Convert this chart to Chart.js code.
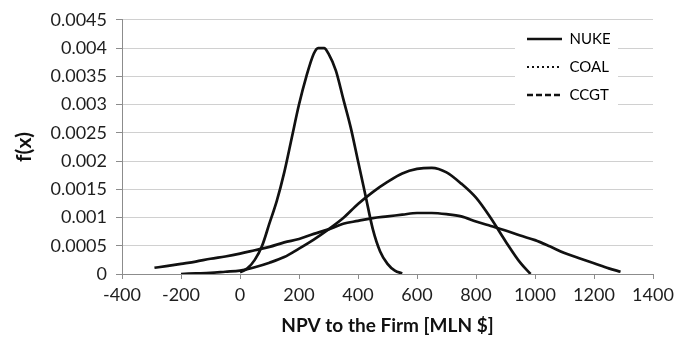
<!DOCTYPE html>
<html><head><meta charset="utf-8">
<script src="https://cdn.jsdelivr.net/npm/chart.js@4/dist/chart.umd.min.js"></script>
<style>html,body{margin:0;padding:0;background:#fff}#wrap{width:692px;height:340px}</style>
</head><body><div id="wrap"><canvas id="c" width="692" height="340"></canvas></div>
<script>
const seriesNames = ['NUKE', 'COAL', 'CCGT'];

const nukeX = [0, 25, 50, 75, 100, 125, 150, 175, 200, 225, 250, 265, 285, 300, 325, 350, 375, 400, 425, 450, 475, 500, 525, 550];
const nukeY = [0.00003, 0.0001, 0.00025, 0.0005, 0.0009, 0.0013, 0.0018, 0.0024, 0.003, 0.0035, 0.0039, 0.004, 0.004, 0.0039, 0.0036, 0.0031, 0.0026, 0.002, 0.0014, 0.0008, 0.0004, 0.00018, 0.00006, 0.00001];

const coalX = [-200, -150, -100, -50, 0, 50, 100, 150, 200, 250, 300, 350, 400, 450, 500, 550, 600, 650, 700, 750, 800, 850, 900, 950, 985];
const coalY = [0, 0.00001, 0.00002, 0.00004, 0.00006, 0.00012, 0.0002, 0.0003, 0.00045, 0.00061, 0.00079, 0.00099, 0.00124, 0.00145, 0.00163, 0.00178, 0.00186, 0.00188, 0.0018, 0.0016, 0.00135, 0.00099, 0.00058, 0.0002, 0];

const ccgtX = [-290, -250, -200, -150, -100, -50, 0, 50, 100, 150, 200, 250, 300, 350, 400, 450, 500, 550, 600, 650, 700, 750, 800, 850, 900, 950, 1000, 1050, 1100, 1150, 1200, 1250, 1290];
const ccgtY = [0.00011, 0.00014, 0.00018, 0.00022, 0.00027, 0.00031, 0.00036, 0.00042, 0.00048, 0.00056, 0.00062, 0.00071, 0.00079, 0.00089, 0.00094, 0.00099, 0.00102, 0.00105, 0.00108, 0.00108, 0.00106, 0.00102, 0.00093, 0.00085, 0.00077, 0.00068, 0.0006, 0.00049, 0.00037, 0.00028, 0.00019, 0.0001, 0.00004];

const xTickLabels = ['-400', '-200', '0', '200', '400', '600', '800', '1000', '1200', '1400'];
const yTickLabels = ['0', '0.0005', '0.001', '0.0015', '0.002', '0.0025', '0.003', '0.0035', '0.004', '0.0045'];

const xTitle = 'NPV to the Firm [MLN $]';
const yTitle = 'f(x)';

function pts(xs, ys) { return xs.map((x, i) => ({ x: x, y: ys[i] })); }

const legendDash = [[], [2, 3], [6, 3]];
const legendWidth = [2.6, 2, 2.6];

Chart.defaults.font.family = 'Lato, "Liberation Sans", sans-serif';
Chart.defaults.color = '#1e1e1e';

const legendPlacer = {
  id: 'legendPlacer',
  afterLayout(chart) {
    const lg = chart.legend;
    if (!lg) return;
    const w = lg.width, h = lg.height;
    lg.left = 514; lg.top = 18.5;
    lg.right = lg.left + w; lg.bottom = lg.top + h;
  },
  afterDraw(chart) {
    const lg = chart.legend;
    if (!lg) return;
    const ctx = chart.ctx;
    ctx.save();
    ctx.fillStyle = '#ffffff';
    ctx.fillRect(515, 24, 103, 88);
    ctx.restore();
    lg.draw(chart.chartArea);
  }
};

const lineStyle = { borderColor: '#111111', borderWidth: 2.7, pointRadius: 0, fill: false, cubicInterpolationMode: 'monotone' };

new Chart(document.getElementById('c'), {
  type: 'line',
  data: {
    datasets: [
      Object.assign({ label: seriesNames[0], data: pts(nukeX, nukeY) }, lineStyle),
      Object.assign({ label: seriesNames[1], data: pts(coalX, coalY) }, lineStyle),
      Object.assign({ label: seriesNames[2], data: pts(ccgtX, ccgtY) }, lineStyle)
    ]
  },
  options: {
    responsive: false,
    animation: false,
    devicePixelRatio: 1,
    layout: { padding: { top: 18, right: 39, bottom: 0, left: 0 } },
    plugins: {
      tooltip: { enabled: false },
      legend: {
        position: 'chartArea',
        align: 'start',
        labels: {
          usePointStyle: true,
          pointStyleWidth: 35,
          padding: 13,
          color: '#111',
          font: { size: 15, lineHeight: 1 },
          generateLabels(chart) {
            return chart.data.datasets.map((ds, i) => ({
              text: ds.label,
              fillStyle: '#111',
              strokeStyle: '#111',
              lineWidth: legendWidth[i],
              lineDash: legendDash[i],
              lineCap: 'butt',
              pointStyle: 'line',
              hidden: false,
              datasetIndex: i
            }));
          }
        }
      }
    },
    scales: {
      x: {
        type: 'linear',
        min: -400, max: 1400,
        ticks: { stepSize: 200, font: { size: 18 }, padding: 5, maxRotation: 0,
          callback: (v, i) => xTickLabels[i] },
        grid: { drawOnChartArea: false, drawTicks: true, tickLength: 5, tickColor: '#8c8c8c' },
        border: { display: true, color: '#8c8c8c', width: 1 },
        title: { display: true, text: xTitle, font: { size: 19, weight: 'bold' }, color: '#111', padding: { top: 2, bottom: 3 } },
        afterFit(s) { s.height = 66; }
      },
      y: {
        min: 0, max: 0.0045,
        ticks: { stepSize: 0.0005, font: { size: 18 }, padding: 9,
          callback: (v, i) => yTickLabels[i] },
        grid: { color: '#d0d0d0', tickLength: 6, tickColor: '#8c8c8c' },
        border: { display: true, color: '#8c8c8c', width: 1 },
        title: { display: true, text: yTitle, font: { size: 21, weight: 'bold' }, color: '#111', padding: { top: 12, bottom: 0 } },
        afterFit(s) { s.width = 122; }
      }
    }
  },
  plugins: [legendPlacer]
});
</script>
</body></html>
